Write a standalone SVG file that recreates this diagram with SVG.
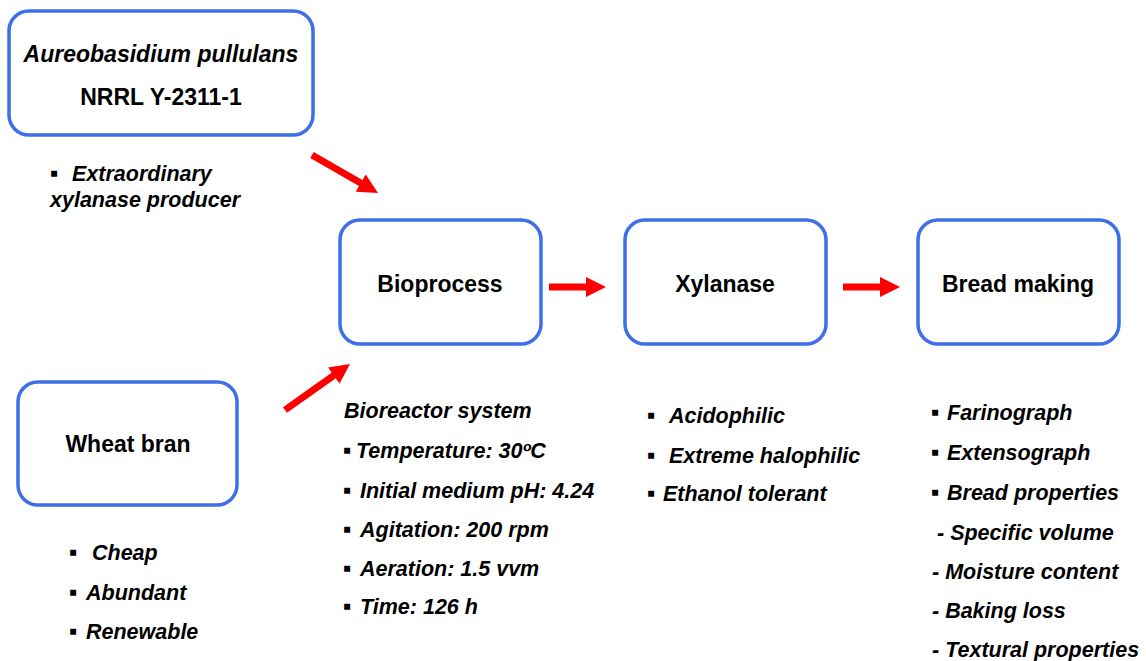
<svg xmlns="http://www.w3.org/2000/svg" width="1146" height="661" viewBox="0 0 1146 661">
<style>
.box{fill:#fff;stroke:#3d6fe9;stroke-width:3.5}
.t{font-family:"Liberation Sans",Arial,sans-serif;font-weight:bold;font-size:23px;fill:#000}
.l{font-family:"Liberation Sans",Arial,sans-serif;font-weight:bold;font-style:italic;font-size:21.5px;fill:#000}
.b{font-style:normal;font-size:24px}
.arr{stroke:#ff0000;stroke-width:7;fill:none}
</style>
<defs>
<marker id="ah" markerUnits="userSpaceOnUse" markerWidth="22" markerHeight="22" refX="2" refY="10" orient="auto">
<path d="M0,0 L20,10 L0,20 z" fill="#ff0000"/>
</marker>
</defs>
<rect width="1146" height="661" fill="#fff"/>
<g id="connectors">
<line class="arr" x1="312" y1="155" x2="362.4" y2="184" marker-end="url(#ah)"/>
<line class="arr" x1="285" y1="410" x2="335.3" y2="374.4" marker-end="url(#ah)"/>
<line class="arr" x1="549" y1="287" x2="588" y2="287" marker-end="url(#ah)"/>
<line class="arr" x1="843" y1="287" x2="882" y2="287" marker-end="url(#ah)"/>
</g>
<g id="aureobasidium">
<rect class="box" x="9" y="11" width="304" height="124" rx="20"/>
<text class="t" x="161" y="62" text-anchor="middle" font-style="italic">Aureobasidium pullulans</text>
<text class="t" x="161" y="105" text-anchor="middle">NRRL Y-2311-1</text>
<text class="l" y="181"><tspan class="b" x="50">▪</tspan><tspan x="72">Extraordinary</tspan></text>
<text class="l" x="50" y="207">xylanase producer</text>
</g>
<g id="wheatbran">
<rect class="box" x="18" y="382" width="219" height="123" rx="20"/>
<text class="t" x="128" y="452" text-anchor="middle">Wheat bran</text>
<text class="l" y="560"><tspan class="b" x="69">▪</tspan><tspan x="92">Cheap</tspan></text>
<text class="l" y="600"><tspan class="b" x="69">▪</tspan><tspan x="86">Abundant</tspan></text>
<text class="l" y="639"><tspan class="b" x="69">▪</tspan><tspan x="86">Renewable</tspan></text>
</g>
<g id="bioprocess">
<rect class="box" x="340" y="220" width="201" height="124" rx="20"/>
<text class="t" x="440" y="292" text-anchor="middle">Bioprocess</text>
<text class="l" x="344" y="418">Bioreactor system</text>
<text class="l" y="458"><tspan class="b" x="343">▪</tspan><tspan x="356">Temperature: 30ºC</tspan></text>
<text class="l" y="498"><tspan class="b" x="343">▪</tspan><tspan x="360">Initial medium pH: 4.24</tspan></text>
<text class="l" y="537"><tspan class="b" x="343">▪</tspan><tspan x="360">Agitation: 200 rpm</tspan></text>
<text class="l" y="576"><tspan class="b" x="343">▪</tspan><tspan x="360">Aeration: 1.5 vvm</tspan></text>
<text class="l" y="614"><tspan class="b" x="343">▪</tspan><tspan x="360">Time: 126 h</tspan></text>
</g>
<g id="xylanase">
<rect class="box" x="625" y="220" width="201" height="124" rx="20"/>
<text class="t" x="725" y="292" text-anchor="middle">Xylanase</text>
<text class="l" y="423"><tspan class="b" x="647">▪</tspan><tspan x="669">Acidophilic</tspan></text>
<text class="l" y="463"><tspan class="b" x="647">▪</tspan><tspan x="669">Extreme halophilic</tspan></text>
<text class="l" y="501"><tspan class="b" x="647">▪</tspan><tspan x="663">Ethanol tolerant</tspan></text>
</g>
<g id="breadmaking">
<rect class="box" x="918" y="220" width="201" height="124" rx="20"/>
<text class="t" x="1018" y="292" text-anchor="middle">Bread making</text>
<text class="l" y="420"><tspan class="b" x="931">▪</tspan><tspan x="947">Farinograph</tspan></text>
<text class="l" y="460"><tspan class="b" x="931">▪</tspan><tspan x="947">Extensograph</tspan></text>
<text class="l" y="500"><tspan class="b" x="931">▪</tspan><tspan x="947">Bread properties</tspan></text>
<text class="l" x="937" y="540">- Specific volume</text>
<text class="l" x="932" y="579">- Moisture content</text>
<text class="l" x="932" y="618">- Baking loss</text>
<text class="l" x="932" y="657">- Textural properties</text>
</g>
</svg>
